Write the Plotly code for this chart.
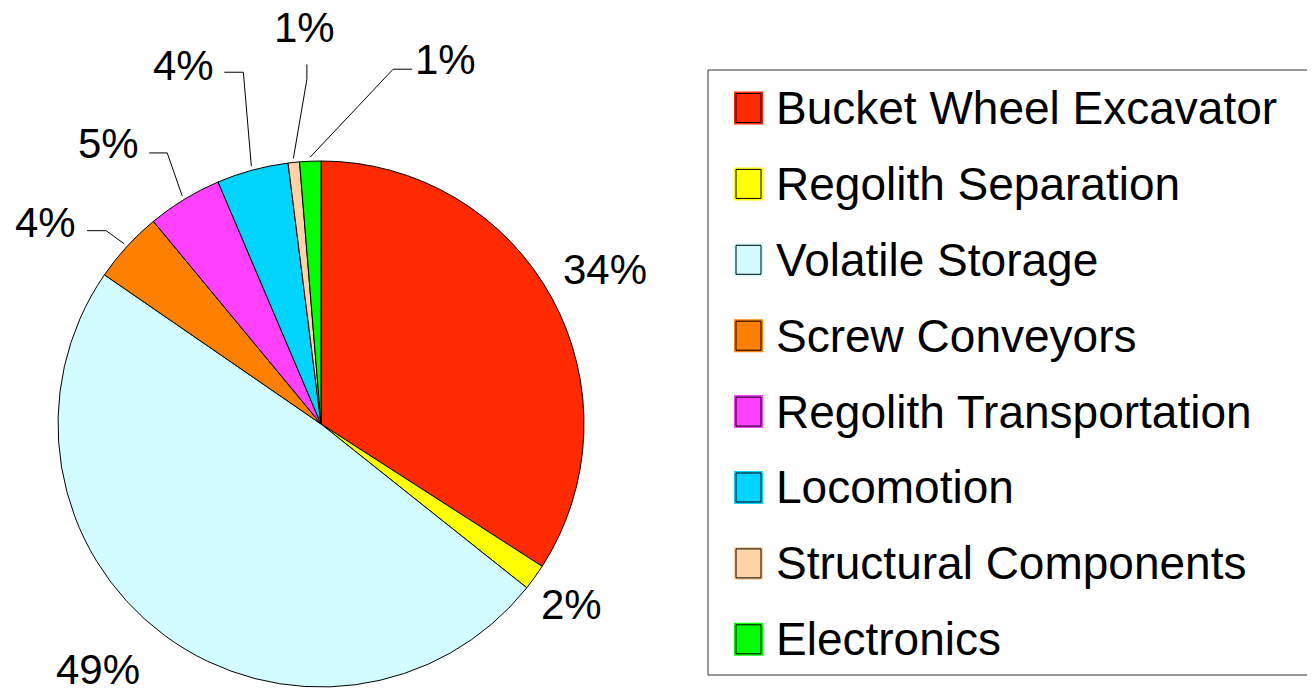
import math
import plotly.graph_objects as go

# ---- data ----
categories = [
    "Bucket Wheel Excavator",
    "Regolith Separation",
    "Volatile Storage",
    "Screw Conveyors",
    "Regolith Transportation",
    "Locomotion",
    "Structural Components",
    "Electronics",
]
shares = [34.1, 1.6, 48.9, 4.4, 4.6, 4.4, 0.7, 1.3]
colors = ["#FF2A00", "#FFFF00", "#D2FCFF", "#FF8000", "#FF40FF", "#00D4FF", "#FFD3A6", "#00FF00"]

# ---- layout constants (pixels in the final screenshot) ----
OFF = 8  # page body margin
W, H = 1315 - OFF, 689 - OFF
CX, CY, R = 321, 424, 263
FONT = "Liberation Sans, Arial, sans-serif"
FS = 42       # pie labels
LFS = 46      # legend text
TEXT_DY = -3
LEG_BOX = (708, 70, 1500, 675)
ROW0, ROW_STEP = 108, 75.9
SW_X = (734, 763)
SW_H = 33

# label placement: leader segments (px offsets from slice edge point), text offset from last point
label_place = {
    "Bucket Wheel Excavator": ([], (50, -24)),
    "Regolith Separation": ([], (34, 28)),
    "Volatile Storage": ([], (-64, 34)),
    "Screw Conveyors": ([(-18, -13), (-19, 0)], (-42, -5)),
    "Regolith Transportation": ([(-15, -43), (-18, 0)], (-41, -6)),
    "Locomotion": ([(-8, -94), (-19, 0)], (-41, -4)),
    "Structural Components": ([(13.5, -79), (0, -15)], (-2, -34)),
    "Electronics": ([(83, -88), (19, 0)], (33, -7)),
}


def px(x, y):
    return (x - OFF) / W, 1 - (y - OFF) / H


def rect(x0, y0, x1, y1, **kw):
    a, b = px(x0, y1)
    c, d = px(x1, y0)
    return dict(type="rect", xref="paper", yref="paper", x0=a, y0=b, x1=c, y1=d, **kw)


fig = go.Figure()
dx0, dy0 = px(CX - R, CY + R)
dx1, dy1 = px(CX + R, CY - R)
fig.add_trace(go.Pie(
    labels=categories,
    values=shares,
    marker=dict(colors=colors, line=dict(color="black", width=1)),
    sort=False,
    direction="clockwise",
    rotation=0,
    textinfo="none",
    hoverinfo="label+percent",
    showlegend=False,
    domain=dict(x=[dx0, dx1], y=[dy0, dy1]),
))

shapes = []
# legend entries (text from the legend, swatches drawn as shapes)
for i, (cat, col) in enumerate(zip(categories, colors)):
    fig.add_trace(go.Scatter(
        x=[None], y=[None], mode="markers", name=cat, legendgroup=cat,
        marker=dict(symbol="square", size=16, color="rgba(0,0,0,0)", line=dict(width=0)),
        hoverinfo="skip", showlegend=True,
    ))
    cy = ROW0 + ROW_STEP * i
    shapes.append(rect(SW_X[0], cy - SW_H / 2, SW_X[1], cy + SW_H / 2,
                       fillcolor=col, line=dict(width=0)))
    shapes.append(rect(SW_X[0] + 2, cy - SW_H / 2 + 2, SW_X[1] - 2, cy + SW_H / 2 - 2,
                       fillcolor=col, line=dict(color="black", width=1)))

shapes.append(rect(*LEG_BOX, line=dict(color="#333", width=1), fillcolor="rgba(0,0,0,0)"))

total = sum(shares)
cum = 0.0
annotations = []
for cat, v in zip(categories, shares):
    mid = (cum + v / 2) / total
    cum += v
    th = 2 * math.pi * mid
    ex = CX + (R + 4) * math.sin(th)
    ey = CY - (R + 4) * math.cos(th)
    segs, toff = label_place[cat]
    pts = [(ex, ey)]
    x, y = ex, ey
    for dx, dy in segs:
        x += dx
        y += dy
        pts.append((x, y))
    if segs:
        path = "M " + " L ".join(f"{px(a, b)[0]:.5f},{px(a, b)[1]:.5f}" for a, b in pts)
        shapes.append(dict(type="path", xref="paper", yref="paper", path=path,
                           line=dict(color="black", width=1)))
    tx, ty = x + toff[0], y + toff[1] + TEXT_DY
    ax, ay = px(tx, ty)
    annotations.append(dict(
        x=ax, y=ay, xref="paper", yref="paper", text=f"{round(100 * v / total)}%",
        showarrow=False, xanchor="center", yanchor="middle",
        font=dict(size=FS, family=FONT, color="black"),
    ))

lx, ly = px(LEG_BOX[0], LEG_BOX[1])
fig.update_layout(
    width=W, height=H,
    margin=dict(l=0, r=0, t=0, b=0, autoexpand=False),
    paper_bgcolor="white", plot_bgcolor="white",
    xaxis=dict(visible=False), yaxis=dict(visible=False),
    font=dict(family=FONT, size=FS, color="black"),
    legend=dict(
        x=lx, y=ly, xanchor="left", yanchor="top",
        borderwidth=0, bgcolor="rgba(0,0,0,0)",
        font=dict(size=LFS, family=FONT, color="black"),
        tracegroupgap=13, itemwidth=58,
    ),
    annotations=annotations,
    shapes=shapes,
)

fig.write_html("out.html")
